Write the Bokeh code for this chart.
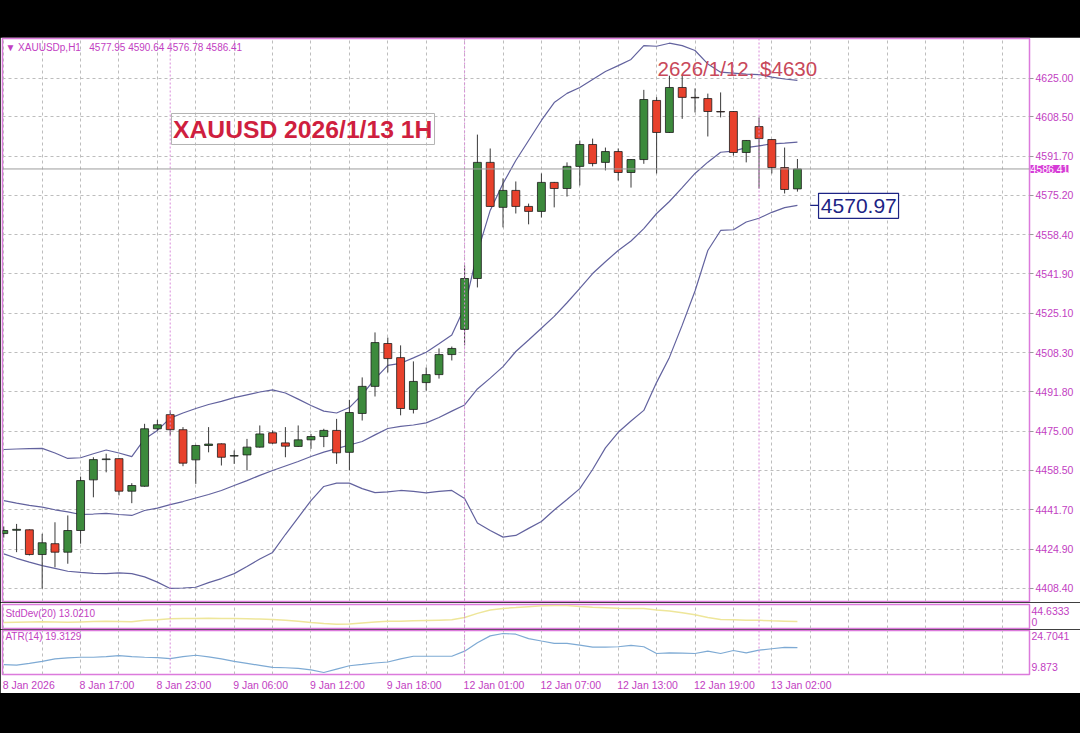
from bokeh.plotting import figure
from bokeh.models import Range1d, FixedTicker, PrintfTickFormatter, Label, Span, ColumnDataSource, Spacer
from bokeh.layouts import column
from bokeh.embed import file_html
from bokeh.resources import INLINE
from bokeh.core.properties import value

# ---------------- data ----------------
opens = [4431.6, 4433.0, 4433.2, 4422.7, 4427.3, 4423.7, 4432.9, 4454.4, 4463.0, 4463.4,
         4449.6, 4451.7, 4476.1, 4482.1, 4475.7, 4462.9, 4469.0, 4469.7, 4464.5, 4465.0,
         4468.3, 4474.4, 4470.1, 4468.6, 4471.4, 4472.8, 4475.4, 4466.1, 4482.6, 4494.1,
         4512.3, 4506.3, 4484.3, 4495.7, 4499.1, 4507.6, 4518.3, 4539.9, 4589.2, 4570.1,
         4577.3, 4570.5, 4568.4, 4580.7, 4578.1, 4587.5, 4596.8, 4589.2, 4593.8, 4584.9,
         4590.4, 4615.5, 4601.9, 4621.0, 4616.8, 4616.3, 4610.8, 4610.8, 4593.4, 4604.4,
         4598.9, 4587.0, 4577.95]
highs = [4434.6, 4435.7, 4433.4, 4431.5, 4436.4, 4439.3, 4455.8, 4464.0, 4465.5, 4463.6,
         4453.0, 4478.2, 4479.9, 4483.9, 4476.8, 4469.3, 4476.8, 4469.9, 4466.9, 4471.8,
         4477.5, 4475.4, 4476.8, 4477.5, 4473.9, 4476.1, 4480.3, 4488.4, 4497.9, 4517.0,
         4514.8, 4511.5, 4504.7, 4502.1, 4510.2, 4511.0, 4545.4, 4601.0, 4595.1, 4582.4,
         4581.1, 4571.7, 4584.5, 4580.9, 4589.2, 4598.5, 4599.3, 4595.5, 4595.1, 4590.6,
         4620.0, 4616.9, 4626.0, 4626.2, 4620.6, 4618.4, 4618.9, 4611.0, 4598.7, 4608.3,
         4599.1, 4595.5, 4590.64]
lows = [4429.9, 4423.7, 4422.3, 4408.2, 4417.3, 4418.8, 4427.3, 4447.0, 4457.6, 4447.8,
        4444.5, 4451.5, 4475.4, 4473.2, 4460.2, 4452.7, 4466.1, 4460.5, 4461.2, 4458.4,
        4468.1, 4469.7, 4464.0, 4468.4, 4467.6, 4468.3, 4461.2, 4458.4, 4479.6, 4489.8,
        4500.0, 4481.8, 4482.6, 4492.3, 4497.4, 4505.1, 4511.5, 4536.1, 4570.3, 4561.6,
        4567.5, 4562.9, 4565.8, 4570.1, 4574.7, 4579.4, 4587.5, 4585.8, 4581.5, 4578.5,
        4588.6, 4584.5, 4601.7, 4607.7, 4610.4, 4600.2, 4608.3, 4592.1, 4589.2, 4578.1,
        4584.5, 4576.0, 4576.78]
closes = [4432.9, 4433.4, 4422.7, 4427.7, 4423.7, 4432.9, 4454.1, 4463.0, 4463.3, 4449.6,
          4452.0, 4476.1, 4477.8, 4475.7, 4461.5, 4469.0, 4469.6, 4464.0, 4464.7, 4468.3,
          4473.9, 4470.0, 4468.7, 4471.4, 4472.8, 4475.4, 4465.9, 4483.0, 4494.1, 4512.7,
          4505.9, 4484.7, 4496.2, 4499.1, 4507.6, 4510.2, 4539.9, 4589.2, 4570.5, 4577.3,
          4570.5, 4568.4, 4580.7, 4578.1, 4587.5, 4596.8, 4588.7, 4593.8, 4584.9, 4590.4,
          4615.9, 4601.9, 4621.0, 4616.8, 4616.6, 4610.8, 4610.6, 4593.4, 4598.5, 4599.3,
          4587.0, 4577.7, 4586.41]

bb_upper = [4467.3, 4467.5, 4467.7, 4467.8, 4465.8, 4463.5, 4463.8, 4465.5, 4467.1, 4465.8,
            4464.3, 4471.8, 4475.4, 4480.6, 4482.8, 4484.7, 4486.4, 4487.7, 4489.3, 4490.5,
            4491.7, 4492.6, 4491.3, 4488.7, 4486.0, 4483.6, 4482.8, 4485.1, 4490.6, 4497.3,
            4503.0, 4503.9, 4506.2, 4508.6, 4512.2, 4515.9, 4527.7, 4550.9, 4568.8, 4580.2,
            4590.0, 4598.5, 4607.0, 4614.6, 4618.5, 4621.0, 4624.4, 4627.8, 4630.3, 4632.9,
            4638.8, 4638.5, 4639.8, 4638.8, 4636.7, 4631.0, 4627.5, 4627.1, 4626.7, 4626.5,
            4625.4, 4624.6, 4624.0]
bb_mid = [4445.6, 4444.5, 4443.6, 4442.8, 4441.7, 4440.8, 4439.7, 4439.9, 4440.2, 4439.7,
          4439.3, 4441.4, 4442.4, 4443.9, 4445.2, 4446.7, 4448.2, 4449.9, 4452.0, 4454.1,
          4456.3, 4458.4, 4460.3, 4462.2, 4464.3, 4466.2, 4467.7, 4469.2, 4470.7, 4473.5,
          4476.2, 4477.1, 4477.7, 4478.6, 4480.9, 4483.6, 4486.2, 4493.0, 4497.6, 4502.5,
          4508.9, 4513.8, 4518.8, 4523.8, 4529.6, 4535.7, 4542.0, 4547.0, 4551.8, 4555.8,
          4561.1, 4567.5, 4572.6, 4578.5, 4584.5, 4589.3, 4593.5, 4594.0, 4595.5, 4596.2,
          4597.1, 4597.4, 4597.8]
bb_lower = [4423.0, 4421.1, 4419.5, 4418.0, 4416.8, 4415.6, 4415.1, 4414.7, 4414.6, 4414.9,
            4414.6, 4413.2, 4411.0, 4408.3, 4408.5, 4408.8, 4410.8, 4412.5, 4414.6, 4417.6,
            4420.8, 4423.6, 4431.2, 4438.4, 4445.6, 4451.6, 4453.0, 4453.0, 4450.7, 4449.0,
            4449.3, 4449.9, 4449.5, 4448.9, 4449.5, 4449.9, 4446.5, 4436.1, 4432.9, 4430.1,
            4430.8, 4433.8, 4436.7, 4441.6, 4446.1, 4450.7, 4458.8, 4468.0, 4474.6, 4479.4,
            4483.9, 4495.8, 4506.4, 4520.1, 4534.6, 4551.8, 4560.3, 4560.6, 4563.9, 4565.5,
            4568.0, 4570.0, 4570.97]

stddev = [10.9, 11.5, 12.0, 12.5, 12.1, 11.4, 12.1, 12.8, 13.5, 13.0,
          12.5, 15.2, 16.5, 18.3, 18.8, 19.0, 19.1, 18.9, 18.6, 18.2,
          17.7, 17.1, 15.5, 13.2, 10.9, 8.7, 7.5, 8.0, 10.0, 11.9,
          13.4, 13.4, 14.2, 15.0, 15.6, 16.2, 20.7, 29.0, 35.6, 38.9,
          40.6, 42.4, 44.1, 44.6333, 44.5, 42.7, 41.2, 40.4, 39.3, 38.6,
          38.9, 35.5, 33.6, 30.2, 26.1, 20.9, 17.0, 16.6, 15.6, 15.2,
          14.2, 13.6, 13.021]
atr = [12.83, 12.70, 13.35, 14.12, 15.03, 15.41, 15.67, 15.67, 15.93, 16.31,
       15.93, 15.67, 15.54, 15.15, 15.93, 16.44, 15.80, 15.03, 14.12, 13.35,
       12.57, 11.80, 11.67, 11.41, 10.90, 9.873, 11.16, 12.45, 12.96, 13.48,
       13.86, 15.03, 16.06, 16.06, 16.06, 16.06, 17.99, 21.22, 23.80, 24.7041,
       24.44, 22.77, 21.86, 20.96, 20.96, 20.31, 19.54, 19.54, 19.67, 20.19,
       19.67, 17.09, 17.35, 17.22, 17.09, 17.99, 17.09, 18.25, 17.35, 18.38,
       18.90, 19.40, 19.3129]

price_ticks = [4625.00, 4608.50, 4591.70, 4575.20, 4558.40, 4541.90, 4525.10,
               4508.30, 4491.80, 4475.00, 4458.50, 4441.70, 4424.90, 4408.40]
time_labels = ["8 Jan 2026", "8 Jan 17:00", "8 Jan 23:00", "9 Jan 06:00", "9 Jan 12:00",
               "9 Jan 18:00", "12 Jan 01:00", "12 Jan 07:00", "12 Jan 13:00", "12 Jan 19:00",
               "13 Jan 02:00"]
time_label_bars = [0, 6, 12, 18, 24, 30, 36, 42, 48, 54, 60]
day_start_bars = [13, 36, 59]
grid_bars = list(range(0, 81, 3))

header = "\u25bc XAUUSDp,H1\u00a0\u00a0\u00a04577.95 4590.64 4576.78 4586.41"
title_text = "XAUUSD 2026/1/13 1H"
note_text = "2626/1/12, $4630"
stddev_label = "StdDev(20) 13.0210"
atr_label = "ATR(14) 19.3129"

# ---------------- style ----------------
FONT = "Liberation Sans"
BORDER = "#dc7adc"
LBL = "#c23ec2"
GRID = "#bdbdbd"
SEP = "#d98cd9"
BAND = "#62629e"
GREEN = "#3c8a3c"
RED = "#e8412c"
PX_PER_BAR = 12.8
LBL_SIZE = 10.5
# approximate Arial/Liberation advance widths (em) for the x labels
CHAR_EM = {" ": 0.278, ":": 0.278, "J": 0.5, "a": 0.556, "n": 0.556}

n = len(closes)
bars = list(range(n))
X_END = 80.13
xr = Range1d(-0.1, X_END)


def make_fig(frame_h, y_range, top, bottom, x_axis=None):
    p = figure(frame_width=1027, frame_height=frame_h, x_range=xr, y_range=y_range,
               output_backend="svg", toolbar_location=None, title=None,
               x_axis_location=x_axis, y_axis_location="right",
               min_border_left=2, min_border_right=51, min_border_top=top,
               min_border_bottom=bottom,
               background_fill_color="white", border_fill_color="white",
               outline_line_color=BORDER, outline_line_width=1.5)
    p.xgrid.ticker = FixedTicker(ticks=grid_bars)
    p.xgrid.grid_line_color = GRID
    p.xgrid.grid_line_dash = "3 3"
    p.xgrid.grid_line_width = 1
    ya = p.yaxis[0]
    ya.axis_line_color = None
    ya.major_tick_in = 0
    ya.minor_tick_line_color = None
    ya.major_label_text_color = LBL
    ya.major_label_text_font = FONT
    ya.major_label_text_font_size = f"{LBL_SIZE}px"
    ya.major_label_standoff = 2
    for b in day_start_bars:
        p.add_layout(Span(location=b, dimension="height", line_color=SEP,
                          line_dash="2 2", line_width=1))
    return p


# ---------------- main price panel ----------------
main = make_fig(563, Range1d(4402.76, 4641.80), top=1, bottom=1)
main.ygrid.ticker = FixedTicker(ticks=price_ticks)
main.ygrid.grid_line_color = GRID
main.ygrid.grid_line_dash = "3 3"
ya = main.yaxis[0]
ya.ticker = FixedTicker(ticks=price_ticks)
ya.formatter = PrintfTickFormatter(format="%.2f")
ya.major_tick_out = 4
ya.major_tick_line_color = "#9a9a9a"

# bid line
main.add_layout(Span(location=closes[-1], dimension="width", line_color="#9c9c9c", line_width=1))

# bollinger bands
for band in (bb_upper, bb_mid, bb_lower):
    main.line(bars, band, line_color=BAND, line_width=1.2)

# candles
src = ColumnDataSource(dict(
    x=bars, high=highs, low=lows,
    top=[max(o, c) for o, c in zip(opens, closes)],
    bottom=[min(o, c) for o, c in zip(opens, closes)],
    fill=[GREEN if c >= o else RED for o, c in zip(opens, closes)],
))
main.segment(x0="x", y0="low", x1="x", y1="high", source=src, line_color="#3a3a3a", line_width=1)
main.vbar(x="x", width=0.62, top="top", bottom="bottom", source=src,
          fill_color="fill", line_color="#1c1c1c", line_width=0.8)

# header line
main.text(x=[0.13], y=[4638.0], text=[header], text_font=value(FONT),
          text_font_size=value("10px"), text_color=LBL, text_align="left", text_baseline="middle")

# title box
main.quad(left=[13.10], right=[33.65], top=[4609.96], bottom=[4596.8],
          fill_color=None, line_color="#b4b4b4", line_width=1)
main.text(x=[13.22], y=[4603.2], text=[title_text], text_font=value(FONT),
          text_font_size=value("24.7px"), text_font_style="bold", text_color="#cf1f3f",
          text_align="left", text_baseline="middle")

# high note
main.text(x=[51.07], y=[4629.1], text=[note_text], text_font=value(FONT),
          text_font_size=value("20.5px"), text_color="#c8485a",
          text_align="left", text_baseline="middle")

# lower band value tag
lb = bb_lower[-1]
main.segment(x0=[63.0], y0=[lb], x1=[63.65], y1=[lb], line_color="#1c2384", line_width=1.2)
main.quad(left=[63.65], right=[69.9], top=[lb + 5.1], bottom=[lb - 5.5],
          fill_color="white", line_color="#1c2384", line_width=1.2)
main.text(x=[63.83], y=[lb - 0.2], text=[f"{lb:.2f}"], text_font=value(FONT),
          text_font_size=value("21px"), text_color="#1c2384",
          text_align="left", text_baseline="middle")

# current price tag on the axis: a label living in the right side panel
# (so it is not clipped to the frame), positioned with the frame's scales
main.add_layout(Label(x=X_END, y=closes[-1], text=f"{closes[-1]:.2f}", x_offset=1,
                      text_font=FONT, text_font_size=f"{LBL_SIZE}px", text_color="white",
                      text_align="left", text_baseline="middle",
                      background_fill_color="#d63cd6", background_fill_alpha=1.0),
                "right")

# ---------------- StdDev panel ----------------
sd_lo, sd_hi = -1.0, 46.63
sd = make_fig(24, Range1d(sd_lo, sd_hi), top=2, bottom=1)
sd.ygrid.visible = False
sa = sd.yaxis[0]
sa.ticker = FixedTicker(ticks=[32.74, 12.89])
sa.major_label_overrides = {32.74: f"{max(stddev):.4f}", 12.89: "0"}
sa.major_tick_out = 0
sd.line(bars, stddev, line_color="#eee69a", line_width=1.5)
sd.text(x=[0.13], y=[28.8], text=[stddev_label], text_font=value(FONT),
        text_font_size=value("10px"), text_color=LBL, text_align="left", text_baseline="middle")

# ---------------- ATR panel ----------------
at_lo, at_hi = 9.112, 25.845
at = make_fig(44, Range1d(at_lo, at_hi), top=1, bottom=18, x_axis="below")
at.ygrid.visible = False
aa = at.yaxis[0]
aa.ticker = FixedTicker(ticks=[23.94, 12.15])
aa.major_label_overrides = {23.94: f"{max(atr):.4f}", 12.15: f"{min(atr):.3f}"}
aa.major_tick_out = 0
at.line(bars, atr, line_color="#7eaad4", line_width=1.2)
at.text(x=[0.13], y=[23.6], text=[atr_label], text_font=value(FONT),
        text_font_size=value("10px"), text_color=LBL, text_align="left", text_baseline="middle")


# MT4 draws time labels starting at their bar; Bokeh centres them, so shift the
# label anchor by half of the label's width.
def label_anchor(bar, text):
    w = sum(CHAR_EM.get(ch, 0.556) for ch in text) * LBL_SIZE
    return round(bar + (w / 2 - 1) / PX_PER_BAR, 3)


anchors = [label_anchor(b, t) for b, t in zip(time_label_bars, time_labels)]
xa = at.xaxis[0]
xa.ticker = FixedTicker(ticks=anchors)
xa.major_label_overrides = {a: t for a, t in zip(anchors, time_labels)}
xa.major_label_text_color = LBL
xa.major_label_text_font = FONT
xa.major_label_text_font_size = f"{LBL_SIZE}px"
xa.major_label_standoff = 4
xa.major_tick_out = 0
xa.major_tick_in = 0
xa.minor_tick_line_color = None
xa.axis_line_color = None

layout = column(Spacer(width=1080, height=37), main, sd, at, spacing=0)

template = """
{% block postamble %}
<style>html, body { margin: 0 !important; padding: 0 !important; background: #000000 !important; overflow: hidden; }</style>
{% endblock %}
"""
html = file_html(layout, INLINE, title="XAUUSD H1", template=template)
open("out.html", "w").write(html)
